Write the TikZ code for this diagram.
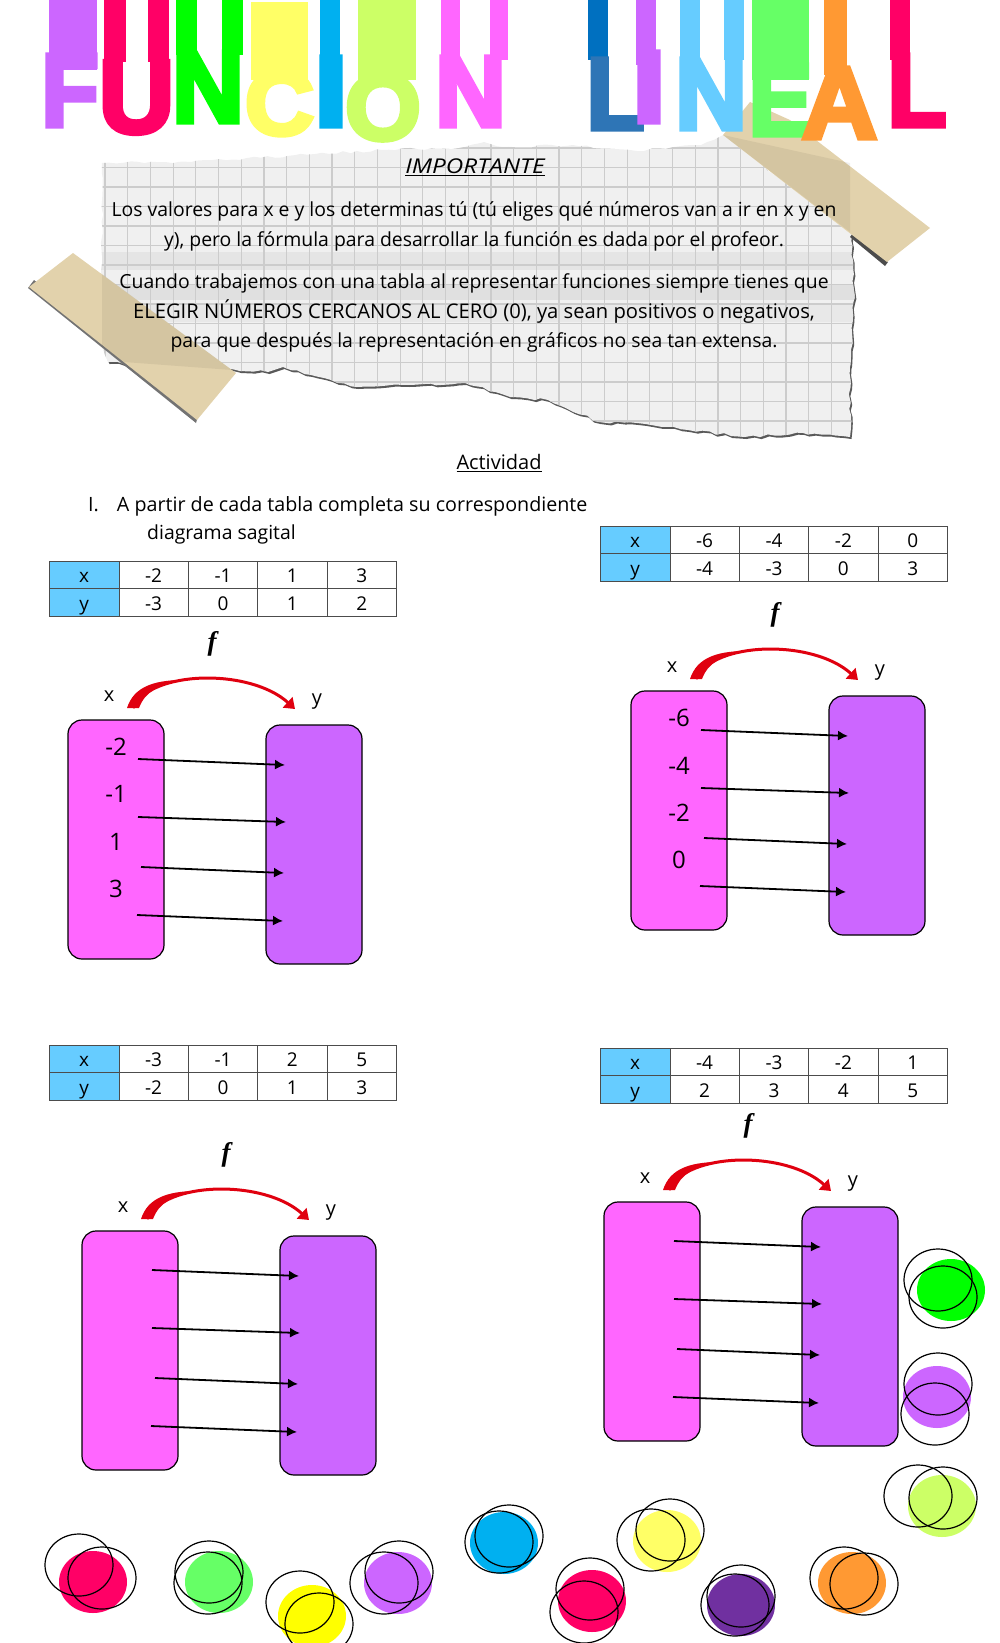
\documentclass[tikz,border=0pt]{standalone}
\usepackage{fontspec}
\setmainfont{Open Sans}
\newfontfamily\letrafont[FakeBold=5]{Liberation Sans Bold}
\newfontfamily\fefont{Liberation Serif}
\usepackage{graphicx}
\usetikzlibrary{arrows.meta}
\usetikzlibrary{decorations.pathmorphing}
\definecolor{Lila}{HTML}{CC66FF}
\definecolor{Rosa}{HTML}{FF66FF}
\definecolor{Fresa}{HTML}{FF0066}
\definecolor{Verde}{HTML}{00FF00}
\definecolor{VerdeC}{HTML}{66FF66}
\definecolor{Amarillo}{HTML}{FFFF66}
\definecolor{AmarilloF}{HTML}{FFFF00}
\definecolor{Azul}{HTML}{00B0F0}
\definecolor{Lima}{HTML}{CCFF66}
\definecolor{AzulO}{HTML}{0070C0}
\definecolor{AzulM}{HTML}{2E75B6}
\definecolor{Celeste}{HTML}{66CCFF}
\definecolor{Naranja}{HTML}{FF9933}
\definecolor{Morado}{HTML}{7030A0}
\definecolor{Cinta}{HTML}{E2D2AC}
\definecolor{Flecha}{HTML}{E0000F}
\tikzset{dimen/.style={-{Latex[length=10pt,width=10pt]},line width=1.8pt,black}}
\tikzset{arco/.style={-{Triangle[length=10pt,width=14pt]},line width=3pt,Flecha}}
\tikzstyle{Celda}=[rectangle,draw=black!70,line width=0.7pt,minimum width=69.4pt,minimum height=27.6pt,inner sep=0pt,text height=16pt,text depth=0pt,font=\fontsize{19}{22}\selectfont]
\tikzstyle{Caja}=[rectangle,rounded corners=14pt,draw=black,line width=1.2pt,minimum width=96pt,minimum height=239pt,inner sep=0pt]
\tikzstyle{Linea}=[inner sep=0pt,font=\fontsize{19.4}{22}\selectfont]
\tikzstyle{Num}=[inner sep=0pt,font=\fontsize{24}{26}\selectfont]
\tikzstyle{Rotulo}=[inner sep=0pt,font=\fontsize{20}{24}\selectfont]
\tikzstyle{Aro}=[draw=black,line width=1.2pt]
\tikzstyle{Letra}=[inner sep=0pt,font=\letrafont]
\tikzstyle{Roto}=[decorate,decoration={random steps,segment length=7pt,amplitude=1.3pt}]
\def\papel{(102,163) -- (191,162) -- (287,156) -- (382,150) -- (459,148) -- (484,142) -- (503,147) -- (573,145) -- (637,151) -- (701,145) -- (723,135) -- (852,233) -- (854,300) -- (850,367) -- (850,437) -- (803,433) -- (745,437) -- (688,430) -- (637,423) -- (599,422) -- (548,400) -- (510,397) -- (465,383) -- (408,385) -- (357,387) -- (331,380) -- (283,367) -- (268,372) -- (236,370) -- (108,362) -- (102,347) -- cycle}

\begin{document}
\begin{tikzpicture}[x=1pt,y=-1pt]
	\useasboundingbox (0,0) rectangle (1000,1643);

	% hoja
	\pgfmathsetseed{7}
	\fill [black!65,shift={(1.5,2)},Roto] \papel;
	\begin{scope}
		\pgfmathsetseed{7}
		\path [clip,Roto] \papel;
		\fill [black!6] (90,130) rectangle (870,445);
		\fill [black!10] (100,252) rectangle (860,270);
		\fill [black!12] (100,285) rectangle (860,300);
		\fill [black!9] (100,304) rectangle (860,322);
		\foreach \i in {0,...,33}
			\draw [black!20,line width=1.2pt] ({105+22.7*\i},130) -- ({105+22.7*\i},445);
		\foreach \i in {-1,...,15}
			\draw [black!20,line width=1.2pt] (90,{148+19.5*\i}) -- (870,{148+19.5*\i});
	\end{scope}

	% cintas
	\fill [black!70] (850,237) -- (885,266) -- (888,262) -- (853,233) -- cycle;
	\fill [Cinta] (723,135) -- (750,102) -- (790,120) -- (930,228) -- (887,262) -- cycle;
	\fill [black,opacity=0.06] (723,135) -- (850,163) -- (850,232) -- cycle;
	\fill [black!55] (28,288) -- (196,423) -- (198,416) -- (34,280) -- cycle;
	\fill [Cinta] (73,253) -- (29,287) -- (197,420) -- (236,373) -- cycle;
	\fill [black,opacity=0.06] (102,274) -- (236,373) -- (232,370) -- (124,362) -- (102,345) -- cycle;

	\node [Linea] (Titulo) at (475,167) {\scalebox{1.25}[1.05]{\itshape\underline{IMPORTANTE}}};
	\node [Linea] (L1) at (474,211) {Los valores para x e y los determinas tú (tú eliges qué números van a ir en x y en};
	\node [Linea] (L2) at (474,241) {y), pero la fórmula para desarrollar la función es dada por el profeor.};
	\node [Linea] (L3) at (474,283) {Cuando trabajemos con una tabla al representar funciones siempre tienes que};
	\node [Linea,font=\fontsize{20.2}{22}\selectfont] (L4) at (474,312) {ELEGIR NÚMEROS CERCANOS AL CERO (0), ya sean positivos o negativos,};
	\node [Linea] (L5) at (474,342) {para que después la representación en gráficos no sea tan extensa.};
	\node [Linea,font=\fontsize{20}{22}\selectfont] (Actividad) at (499,463) {\underline{Actividad}};
	\node [Linea,anchor=west,font=\fontsize{19.7}{22}\selectfont] (I1) at (88,506) {I.\hspace{18pt}A partir de cada tabla completa su correspondiente};
	\node [Linea,anchor=west] (I2) at (147,534) {diagrama sagital};

	% barras de arriba
	\foreach \xa/\xb/\ya/\yb/\col in {49/97/0/70/Lila,104/126/0/62/Fresa,148/169/0/62/Fresa,176/197/0/55/Verde,222/243/0/55/Verde,251/308/2/80/Amarillo,320/340/0/60/Azul,358/416/0/80/Lima,441/460/0/60/Rosa,490/508/0/60/Rosa,588/608/0/60/AzulO,636/656/0/65/Lila,680/700/0/60/Celeste,724/744/0/60/Celeste,752/809/0/80/VerdeC,824/847/0/75/Naranja,890/910/0/60/Fresa}
		\fill [\col] (\xa,\ya) rectangle (\xb,\yb);

	\foreach \id/\letra/\xa/\xb/\ya/\yb/\fac/\col in {F1/F/43/97/55/126/1.06/Lila,U1/U/103/170/62/133/1.12/Fresa,N1/N/174/242/52/122/1.05/Verde,C1/C/246/313/72/135/1.03/Amarillo,I3/I/320/342/57/126/1.5/Azul,O1/O/347/419/75/140/1.05/Lima,N2/N/437/504/57/126/1.05/Rosa,L1t/L/588/643/59/129/1.05/AzulM,I4/I/638/660/52/122/1.5/Lila,N3/N/677/745/59/129/1.05/Celeste,E1/E/751/810/65/135/1.08/VerdeC,A1/A/802/877/68/138/1.0/Naranja,L2t/L/889/945/55/126/1.05/Fresa}
	{
		\pgfmathsetmacro{\anch}{(\xb-\xa)*\fac}
		\pgfmathsetmacro{\alto}{\yb-\ya}
		\node [Letra,text=\col,anchor=center] (\id) at ({(\xa+\xb)/2},{(\ya+\yb)/2}) {\resizebox{\anch pt}{\alto pt}{\letra}};
	}

	% tablas
	\foreach \tb/\tx/\ty/\xvals/\yvals in {1/49.5/561/{-2,-1,1,3}/{-3,0,1,2},2/600.5/526/{-6,-4,-2,0}/{-4,-3,0,3},3/49.5/1045/{-3,-1,2,5}/{-2,0,1,3},4/600.5/1048/{-4,-3,-2,1}/{2,3,4,5}}
	{
		\node [Celda,fill=Celeste] (X\tb) at ({\tx+34.7},{\ty+13.8}) {x};
		\node [Celda,fill=Celeste] (Y\tb) at ({\tx+34.7},{\ty+41.4}) {y};
		\foreach \val [count=\cnt] in \xvals
			\node [Celda] (X\tb-\cnt) at ({\tx+34.7+69.4*\cnt},{\ty+13.8}) {\val};
		\foreach \val [count=\cnt] in \yvals
			\node [Celda] (Y\tb-\cnt) at ({\tx+34.7+69.4*\cnt},{\ty+41.4}) {\val};
	}

	% diagramas
	\foreach \g/\dx/\dy/\vals in {1/0/0/{-2,-1,1,3},2/563/-29/{-6,-4,-2,0},3/14/511/{0},4/536/482/{0}}
	{
		\begin{scope}[shift={(\dx,\dy)}]
			\node [Caja,fill=Rosa] (A\g) at (116,839.5) {};
			\node [Caja,fill=Lila] (B\g) at (314,844.5) {};
			\node [font=\fefont\bfseries\itshape\fontsize{27}{30}\selectfont,inner sep=0pt] (f\g) at (212,644) {f};
			\node [Rotulo] (x\g) at (109,696) {x};
			\node [Rotulo] (y\g) at (317,702) {y};
			\coordinate (s\g) at (133,708);
			\coordinate (e\g) at (295,709);
			\fill [Flecha] (127,708) .. controls (134,686) and (155,681) .. (178,680) -- (178,682) .. controls (158,685) and (145,692) .. (139,708) -- cycle;
			\draw [arco] (s\g) .. controls (150,670) and (250,668) .. (e\g);
			\foreach \pa/\ya/\qa/\yb [count=\cnt] in {138/759/285/765,138/817/286/822,141/867/284/873,137/915/283/921}
			{
				\coordinate (p\g-\cnt) at (\pa,\ya);
				\coordinate (q\g-\cnt) at (\qa,\yb);
				\draw [dimen] (p\g-\cnt) -- (q\g-\cnt);
			}
			\ifnum \g<3
				\foreach \val [count=\cnt] in \vals
				{
					\pgfmathsetmacro{\py}{747+47.4*(\cnt-1)}
					\node [Num] (n\g-\cnt) at (116,\py) {\val};
				}
			\fi
		\end{scope}
	}

	% borrones
	\foreach \col/\fx/\fy/\ax/\ay/\bx/\by in {Fresa/93/1582/79/1565/102/1578,VerdeC/219/1582/209/1572/208/1583,AmarilloF/312/1616/300/1602/319/1624,Lila/398/1583/384/1583/399/1572,Azul/504/1543/499/1542/509/1536,Amarillo/667/1541/651/1540/670/1530,Fresa/592/1601/590/1589/584/1612,Morado/741/1605/741/1596/735/1605,Naranja/852/1583/844/1578/864/1584,Verde/951/1290/938/1280/943/1297,Lila/937/1397/938/1384/935/1414,Lima/942/1506/918/1496/943/1498}
	{
		\fill [\col] (\fx,\fy) ellipse [x radius=34pt,y radius=31pt];
		\draw [Aro] (\ax,\ay) ellipse [x radius=34pt,y radius=31pt];
		\draw [Aro] (\bx,\by) ellipse [x radius=34pt,y radius=31pt];
	}
\end{tikzpicture}
\end{document}
